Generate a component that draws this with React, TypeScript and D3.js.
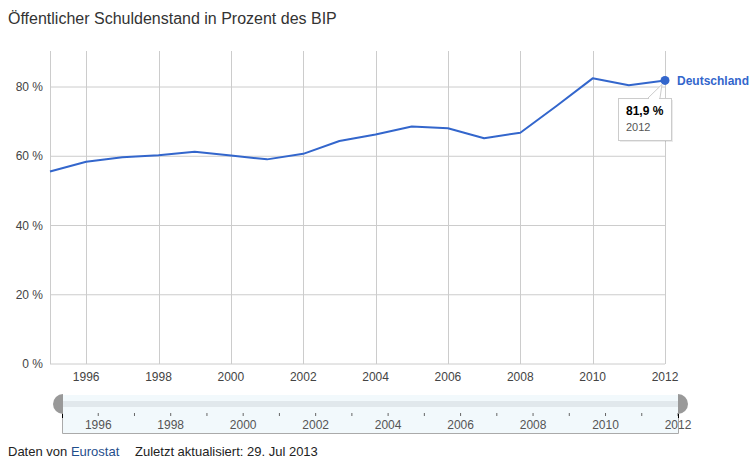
import { useEffect } from 'react'
import * as d3 from 'd3'

const years = [1995, 1996, 1997, 1998, 1999, 2000, 2001, 2002, 2003, 2004, 2005, 2006, 2007, 2008, 2009, 2010, 2011, 2012]
const debt = [55.6, 58.4, 59.7, 60.3, 61.3, 60.2, 59.1, 60.7, 64.4, 66.3, 68.6, 68.1, 65.2, 66.8, 74.5, 82.5, 80.5, 81.9]
const yTicks = [0, 20, 40, 60, 80]
const xTicks = [1996, 1998, 2000, 2002, 2004, 2006, 2008, 2010, 2012]
const sliderMinor = [1997, 1999, 2001, 2003, 2005, 2007, 2009, 2011]
const seriesName = 'Deutschland'

const W = 752
const H = 462
const font = "Arial, 'Liberation Sans', sans-serif"
const blue = '#3366cc'

export default function App() {
  useEffect(() => {
    document.body.style.margin = '0'
  }, [])

  const x = d3.scaleLinear().domain([1995, 2012]).range([50, 665])
  const y = d3.scaleLinear().domain([0, 80]).range([364, 87])
  const sx = d3.scaleLinear().domain([1995, 2012]).range([62, 678])
  const plotTop = 51

  const pts = years.map((yr, i) => ({ yr, v: debt[i] }))
  const line = d3.line<{ yr: number; v: number }>()
    .x(d => x(d.yr))
    .y(d => y(d.v))

  const last = pts[pts.length - 1]
  const lx = x(last.yr)
  const ly = y(last.v)
  const fmt = (v: number) => v.toFixed(1).replace('.', ',') + ' %'

  // tooltip box
  const tb = { x: 618, y: 98, w: 53, h: 42 }

  return (
    <svg width={W} height={H} style={{ position: 'absolute', left: 0, top: 0, fontFamily: font }}>
      <rect width={W} height={H} fill="#fff" />
      <text x={8} y={24} fontSize={16} fill="#333">Öffentlicher Schuldenstand in Prozent des BIP</text>

      {/* grid */}
      {yTicks.map(t => (
        <g key={t}>
          <line x1={50} x2={665} y1={y(t)} y2={y(t)} stroke="#cccccc" />
          <text x={43} y={y(t)} dy="0.35em" textAnchor="end" fontSize={12} fill="#444">{t} %</text>
        </g>
      ))}
      <line x1={50.5} x2={50.5} y1={plotTop} y2={364} stroke="#cccccc" />
      {xTicks.map(t => (
        <g key={t}>
          <line x1={Math.round(x(t)) + 0.5} x2={Math.round(x(t)) + 0.5} y1={plotTop} y2={364} stroke="#cccccc" />
          <text x={x(t)} y={381} textAnchor="middle" fontSize={12} fill="#444">{t}</text>
        </g>
      ))}

      {/* series */}
      <path d={line(pts) ?? ''} fill="none" stroke={blue} strokeWidth={2} strokeLinejoin="round" />
      <circle cx={lx} cy={ly} r={4.5} fill={blue} />
      <text x={677} y={ly} dy="0.35em" fontSize={12} fontWeight="bold" fill={blue}>{seriesName}</text>

      {/* tooltip */}
      <g>
        <rect x={tb.x + 2} y={tb.y + 2} width={tb.w} height={tb.h} fill="#000" opacity={0.08} />
        <path d={`M${tb.x + 30},${tb.y} L${lx - 3},${ly + 4} L${tb.x + 42},${tb.y}`} fill="#fff" stroke="#cccccc" />
        <rect x={tb.x + 0.5} y={tb.y + 0.5} width={tb.w} height={tb.h} fill="#fff" stroke="#cccccc" />
        <line x1={tb.x + 31} x2={tb.x + 41} y1={tb.y + 0.5} y2={tb.y + 0.5} stroke="#fff" strokeWidth={1.5} />
        <text x={tb.x + 8} y={tb.y + 17} fontSize={12} fontWeight="bold" fill="#000">{fmt(last.v)}</text>
        <text x={tb.x + 8} y={tb.y + 33} fontSize={11} fill="#555">{last.yr}</text>
      </g>

      {/* range slider */}
      <g>
        <rect x={62} y={395} width={616} height={38.5} fill="#f2f9fc" />
        <rect x={62} y={401} width={616} height={6} fill="#e1e8ec" />
        <path d={`M62.5,395 V433.5 H678.5 V395`} fill="none" stroke="#aaaaaa" />
        {sliderMinor.map(t => (
          <line key={t} x1={sx(t)} x2={sx(t)} y1={413} y2={416} stroke="#666" />
        ))}
        {xTicks.map(t => (
          <g key={t}>
            <line x1={sx(t)} x2={sx(t)} y1={413} y2={416} stroke="#666" />
            <text x={sx(t)} y={429} textAnchor="middle" fontSize={12} fill="#555">{t}</text>
          </g>
        ))}
        <line x1={62.5} x2={62.5} y1={410} y2={418} stroke="#000" />
        <line x1={678.5} x2={678.5} y1={410} y2={418} stroke="#000" />
        <path d={`M63,394 A10,10 0 0,0 63,414 Z`} fill="#999" />
        <path d={`M678,394 A10,10 0 0,1 678,414 Z`} fill="#999" />
      </g>

      {/* footer */}
      <text x={8} y={456} fontSize={13} fill="#222">
        Daten von <tspan fill="#1f4e8c">Eurostat</tspan>
      </text>
      <text x={135} y={456} fontSize={13} fill="#222">Zuletzt aktualisiert: 29. Jul 2013</text>
    </svg>
  )
}
